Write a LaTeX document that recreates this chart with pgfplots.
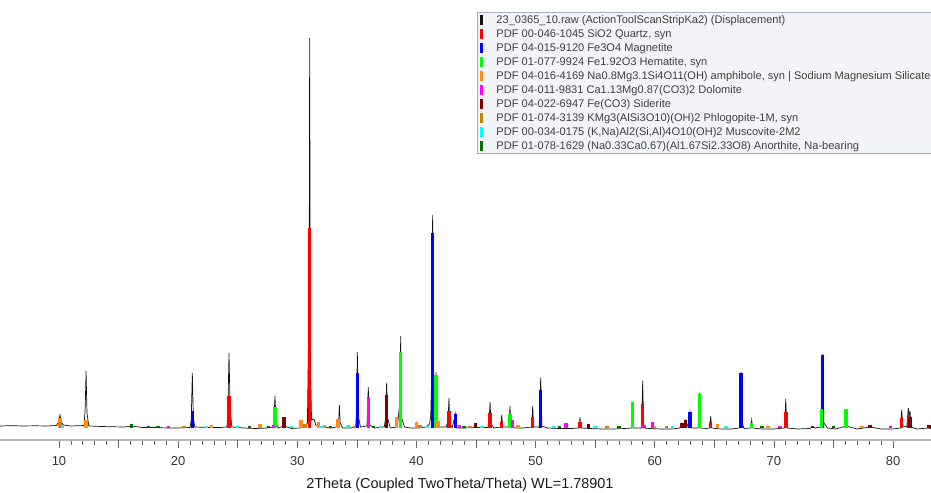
\documentclass[border=0pt]{standalone}
\usepackage{pgfplots}
\pgfplotsset{compat=1.18}
\usepackage{fontspec}
\setmainfont{Liberation Sans}
\definecolor{cRaw}{RGB}{20,20,20}
\definecolor{cQtz}{RGB}{255,0,0}
\definecolor{cMag}{RGB}{0,0,255}
\definecolor{cHem}{RGB}{0,255,0}
\definecolor{cAmp}{RGB}{255,140,20}
\definecolor{cDol}{RGB}{255,0,255}
\definecolor{cSid}{RGB}{128,0,0}
\definecolor{cPhl}{RGB}{200,130,10}
\definecolor{cMus}{RGB}{0,255,255}
\definecolor{cAno}{RGB}{0,112,0}
\definecolor{legfill}{RGB}{243,244,247}
\definecolor{legdraw}{RGB}{165,175,192}
\pgfplotsset{
  stick/.style={ycomb, mark=none, line width=3.5bp, line cap=butt,
    legend image code/.code={\draw[line width=3bp] (0bp,-4.5bp) -- (0bp,5.5bp);}},
}
\begin{document}
\begin{tikzpicture}
\begin{axis}[
  scale only axis, width=931bp, height=440bp,
  xmin=5.048, xmax=83.19, ymin=-12, ymax=428,
  axis x line*=bottom, axis y line=none,
  axis line style={draw=black!28, line width=1.6bp},
  xtick={10,20,...,80}, minor x tick num=9,
  extra x ticks={15,25,...,75}, extra x tick labels={},
  tick align=outside,
  major tick length=8bp, minor tick length=5bp,
  tick style={draw=black!60, line width=0.7bp},
  extra x tick style={tick style={draw=black!60, line width=0.7bp}},
  /pgf/number format/assume math mode=true,
  xticklabel style={font=\fontsize{13}{14}\selectfont, text=black!80, yshift=-5bp},
  xlabel={2Theta (Coupled TwoTheta/Theta) WL=1.78901},
  xlabel style={at={(axis description cs:0.494,-0.1015)}, anchor=center, font=\fontsize{14.5}{16}\selectfont, text=black!90},
  legend style={at={(rel axis cs:0.5124,0.9727)}, anchor=north west,
    draw=legdraw, fill=legfill, line width=0.8bp,
    font=\fontsize{11.1}{12}\selectfont, text=black!75,
    inner xsep=3bp, inner ysep=1bp, row sep=1bp, column sep=13bp,
    nodes={inner sep=0pt, text height=8bp, text depth=2.5bp}},
  legend cell align=left,
]
% observed pattern
\addplot[color=cRaw, line width=0.7bp, mark=none,
  legend image code/.code={\draw[line width=3bp] (0bp,-4.5bp) -- (0bp,5.5bp);}] coordinates {
(5.05,2)(6,2.3)(7,2)(8,2.2)(9,2)(9.8,2.5)(9.95,6)(10.08,13)(10.2,6)(10.35,3)(11,2)(12.1,2.5)(12.2,20)(12.27,57)(12.35,15)(12.5,2)
(13.5,1.5)(14.5,1.2)(15.5,1)(16.1,2)(17,0.5)(18,0.5)(19,0)(20,0)(21.0,0.5)(21.1,8)(21.19,55)(21.28,10)(21.4,1)(22.5,0.5)(23.5,0.5)
(24.1,1)(24.18,20)(24.27,75)(24.36,20)(24.5,1)(25.5,0)(26.5,-0.5)(27.5,0)(27.95,1)(28.05,10)(28.13,32)(28.22,5)(28.4,0)(28.89,2)
(29.5,-0.5)(30.2,0)(30.6,1)(30.85,5)(30.93,80)(31.0,150)(31.04,390)(31.1,60)(31.2,8)(31.4,9)(31.55,3)(32,1)(32.8,0)
(33.4,1)(33.48,8)(33.53,23)(33.6,5)(33.8,0)(34.5,0)(34.9,1)(34.97,15)(35.04,76)(35.12,12)(35.3,1)(35.85,2)(35.96,41)(36.05,3)
(36.5,0)(37.3,1)(37.42,10)(37.5,45)(37.58,10)(37.8,0)(38.4,1)(38.6,25)(38.68,92)(38.76,10)(39,1)(39.5,0)(40.2,0)(40.8,1)
(41.1,4)(41.2,12)(41.27,48)(41.36,213)(41.45,40)(41.56,30)(41.64,56)(41.72,8)(41.9,1)(42.5,1)(42.66,8)(42.73,30)(42.8,4)
(43.0,0.5)(43.3,15)(43.4,0)(44,0)(45,0.5)(46.0,0.5)(46.1,6)(46.18,26)(46.26,4)(46.5,0)(47.08,1)(47.16,13)(47.24,1)
(47.78,1)(47.85,22)(47.93,1)(48.3,0)(49,0)(49.68,1)(49.76,22)(49.84,1)(50.3,1)(50.43,50)(50.53,2)(51,0)(52,-0.5)(53,-0.5)
(53.66,0)(53.73,11)(53.8,0)(54.5,-0.5)(55.5,-1)(56.5,-1)(57.5,-0.5)(58.05,0)(58.12,20)(58.2,0)(58.9,0)(58.99,47)(59.08,0)
(59.5,-0.5)(60.5,-1)(61.5,-1)(62.1,0)(62.27,5)(62.45,2)(62.6,8)(62.8,1)(62.96,16)(63.1,0)(63.65,0)(63.74,35)(63.83,0)
(64.3,-0.5)(64.62,0)(64.70,12)(64.78,0)(65.5,-1)(66.5,-1)(67.1,0)(67.17,15)(67.24,56)(67.32,5)(67.5,-0.5)(68.06,0)(68.14,8)
(68.22,0)(69,-1)(70,-1)(70.9,0)(71.0,29)(71.09,0)(72,-1)(73,-0.5)(73.26,1)(73.5,0)(73.9,1)(74.01,20)(74.1,74)(74.2,5)
(74.5,0)(75.2,-1)(76.06,2)(77,-1)(78.07,1)(79,-1)(80,-1)(80.62,0)(80.73,18)(80.82,2)(81.15,1)(81.29,20)(81.36,10)(81.43,17)
(81.52,1)(82,-1)(83,0)(83.2,-1)
};
\addlegendentry{23\_0365\_10.raw (ActionToolScanStripKa2) (Displacement)}
% Quartz
\addplot[stick, color=cQtz] coordinates {
(24.27,32)(31.04,200)(42.73,17)(46.18,15)(47.16,6)(49.76,11)(53.73,6)(58.99,24)(64.70,6)(71.00,16)(80.73,10)(81.29,13)
};
\addlegendentry{PDF 00-046-1045 SiO2 Quartz, syn}
% Magnetite
\addplot[stick, color=cMag] coordinates {
(21.19,17)(35.04,55)(41.36,195)(43.30,14)(50.43,38)(62.96,16)(67.24,55)(74.10,73)
};
\addlegendentry{PDF 04-015-9120 Fe3O4 Magnetite}
% Hematite
\addplot[stick, color=cHem] coordinates {
(28.13,21)(38.68,76)(41.64,53)(47.85,14)(58.12,26)(63.74,34)(68.14,5)(74.01,19)(76.06,19)
};
\addlegendentry{PDF 01-077-9924 Fe1.92O3 Hematite, syn}
% Amphibole
\addplot[stick, color=cAmp] coordinates {
(10.08,10)(12.27,8)(22.81,3)(26.87,4)(30.30,8)(30.55,4)(31.76,6)(32.30,3)(33.42,9)(34.3,3)(38.33,11)(40.02,6)(41.81,7)(48.53,3)(60.0,2)(65.25,4)(69.5,2)(77.4,2)
};
\addlegendentry{PDF 04-016-4169 Na0.8Mg3.1Si4O11(OH) amphibole, syn | Sodium Magnesium Silicate}
% Dolomite
\addplot[stick, color=cDol] coordinates {
(19.2,2)(28.0,3)(35.96,31)(43.6,3)(48.05,8)(52.55,5)(59.10,3)(59.80,6)(70.5,2)(79.8,2)
};
\addlegendentry{PDF 04-011-9831 Ca1.13Mg0.87(CO3)2 Dolomite}
% Siderite
\addplot[stick, color=cSid] coordinates {
(28.89,11)(37.50,33)(44.97,5)(54.43,4)(62.27,5)(62.60,8)(73.26,2)(78.07,3)(81.43,11)(83.02,3)
};
\addlegendentry{PDF 04-022-6947 Fe(CO3) Siderite}
% Phlogopite
\addplot[stick, color=cPhl] coordinates {
(10.12,6)(20.5,2)(30.65,4)(34.8,2)(40.3,3)(44.5,2)(56.0,2)(61.0,2)
};
\addlegendentry{PDF 01-074-3139 KMg3(AlSi3O10)(OH)2 Phlogopite-1M, syn}
% Muscovite
\addplot[stick, color=cMus] coordinates {
(10.3,3)(22.4,2)(25.0,2)(29.5,2)(32.0,2)(34.2,2)(37.0,2)(40.9,2)(45.5,2)(51.5,2)(55.0,2)(61.5,2)(66.0,2)
};
\addlegendentry{PDF 00-034-0175 (K,Na)Al2(Si,Al)4O10(OH)2 Muscovite-2M2}
% Anorthite
\addplot[stick, color=cAno] coordinates {
(16.1,4)(17.5,2)(18.3,2)(26.0,2)(27.6,2)(32.8,2)(36.4,2)(44.0,2)(52.0,2)(57.0,2)(69.0,2)(75.0,2)
};
\addlegendentry{PDF 01-078-1629 (Na0.33Ca0.67)(Al1.67Si2.33O8) Anorthite, Na-bearing}
\end{axis}
\pgfresetboundingbox
\path[use as bounding box] ([yshift=-53bp]current axis.south west) rectangle (current axis.north east);
\end{tikzpicture}
\end{document}
